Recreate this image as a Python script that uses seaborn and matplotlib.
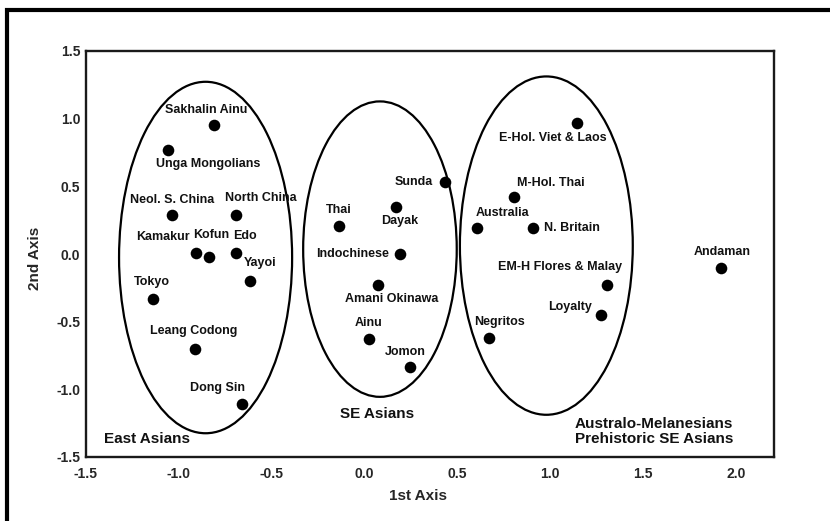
import pandas as pd
import numpy as np
import matplotlib
matplotlib.use('Agg')
import matplotlib.pyplot as plt
from matplotlib.patches import Ellipse, Rectangle
import seaborn as sns

# Dane
populations = ['Sakhalin Ainu', 'Unga Mongolians', 'Neol. S. China', 'North China',
               'Kamakur', 'Kofun', 'Edo', 'Yayoi', 'Tokyo', 'Leang Codong', 'Dong Sin',
               'Thai', 'Dayak', 'Sunda', 'Indochinese', 'Amani Okinawa', 'Ainu', 'Jomon',
               'E-Hol. Viet & Laos', 'M-Hol. Thai', 'Australia', 'N. Britain',
               'EM-H Flores & Malay', 'Loyalty', 'Negritos', 'Andaman']
axis1 = [-0.81, -1.06, -1.035, -0.69, -0.905, -0.84, -0.69, -0.615, -1.14, -0.915, -0.66,
         -0.14, 0.17, 0.435, 0.19, 0.07, 0.025, 0.245,
         1.145, 0.804, 0.605, 0.907, 1.305, 1.273, 0.669, 1.92]
axis2 = [0.955, 0.77, 0.285, 0.29, 0.01, -0.025, 0.005, -0.2, -0.33, -0.70, -1.11,
         0.205, 0.345, 0.53, 0.0, -0.23, -0.625, -0.835,
         0.967, 0.419, 0.189, 0.189, -0.226, -0.448, -0.619, -0.107]

# Grupy (elipsy): środek, szerokość, wysokość
group_names = ['East Asians', 'SE Asians', 'Australo-Melanesians\nPrehistoric SE Asians']
group_cx = [-0.856, 0.083, 0.979]
group_cy = [-0.026, 0.036, 0.062]
group_w = [0.932, 0.827, 0.931]
group_h = [2.597, 2.183, 2.50]

# Przesunięcia etykiet w pikselach (dx, dy w dół) i wyrównanie
label_offsets = {
    'Sakhalin Ainu': (-8, -15, 'center'), 'Unga Mongolians': (40, 14, 'center'),
    'Neol. S. China': (0, -15, 'center'), 'North China': (24, -17, 'center'),
    'Kamakur': (-34, -16, 'center'), 'Kofun': (3, -22, 'center'), 'Edo': (9, -17, 'center'),
    'Yayoi': (10, -18, 'center'), 'Tokyo': (-1, -17, 'center'),
    'Leang Codong': (-1, -18, 'center'), 'Dong Sin': (-24, -16, 'center'),
    'Thai': (0, -16, 'center'), 'Dayak': (4, 14, 'center'), 'Sunda': (-12, 0, 'right'),
    'Indochinese': (-11, 0, 'right'), 'Amani Okinawa': (14, 14, 'center'),
    'Ainu': (-1, -16, 'center'), 'Jomon': (-5, -15, 'center'),
    'E-Hol. Viet & Laos': (-24, 15, 'center'), 'M-Hol. Thai': (37, -14, 'center'),
    'Australia': (26, -15, 'center'), 'N. Britain': (11, 0, 'left'),
    'EM-H Flores & Malay': (-47, -18, 'center'), 'Loyalty': (-9, -8, 'right'),
    'Negritos': (11, -16, 'center'), 'Andaman': (1, -16, 'center'),
}
group_label_pos = [(-1.405, -1.367, 'left'), (0.066, -1.18, 'center'), (1.132, -1.31, 'left')]

sns.set_style('white')
plt.rcParams['font.family'] = ['Liberation Sans', 'DejaVu Sans']
plt.rcParams['font.weight'] = 'bold'

df = pd.DataFrame({'pop': populations, 'x': axis1, 'y': axis2})

fig = plt.figure(figsize=(8.3, 5.21), dpi=100)
ax = fig.add_axes([86 / 830, 1 - 457 / 521, (774 - 86) / 830, (457 - 51) / 521])

sns.scatterplot(data=df, x='x', y='y', ax=ax, color='black', s=70, edgecolor='black',
                linewidth=0, zorder=3)

for cx, cy, w, h in zip(group_cx, group_cy, group_w, group_h):
    ax.add_patch(Ellipse((cx, cy), w, h, fill=False, edgecolor='black', linewidth=1.6, zorder=2))

for p, xv, yv in zip(populations, axis1, axis2):
    dx, dy, ha = label_offsets[p]
    ax.annotate(p, (xv, yv), xytext=(dx, -dy), textcoords='offset pixels',
                ha=ha, va='center', fontsize=9, fontweight='bold', color='#111111')

for name, (gx, gy, ha) in zip(group_names, group_label_pos):
    ax.text(gx, gy, name, ha=ha, va='center', fontsize=11, fontweight='bold',
            linespacing=1.1, color='#111111')

ax.set_xlim(-1.5, 2.205)
ax.set_ylim(-1.5, 1.5)
ax.set_xticks([-1.5, -1.0, -0.5, 0.0, 0.5, 1.0, 1.5, 2.0])
ax.set_yticks([-1.5, -1.0, -0.5, 0.0, 0.5, 1.0, 1.5])
ax.set_xticklabels([f'{v:.1f}' for v in ax.get_xticks()], fontsize=10, fontweight='bold')
ax.set_yticklabels([f'{v:.1f}' for v in ax.get_yticks()], fontsize=10, fontweight='bold')
ax.tick_params(axis='x', length=0, pad=7)
ax.tick_params(axis='y', length=0, pad=4)
ax.set_xlabel('1st Axis', fontsize=11, fontweight='bold')
ax.set_ylabel('2nd Axis', fontsize=11, fontweight='bold')
ax.xaxis.set_label_coords(0.483, -0.08)
ax.yaxis.set_label_coords(-0.064, 0.49)
for sp in ax.spines.values():
    sp.set_linewidth(1.7)
    sp.set_color('#1a1a1a')

# Ramka wokół całego obrazka
fig.patches.append(Rectangle((7 / 830, -0.2), 1.3, 1 - 10 / 521 + 0.2, transform=fig.transFigure,
                             fill=False, edgecolor='black', linewidth=3))

fig.savefig('out.png', dpi=100)
